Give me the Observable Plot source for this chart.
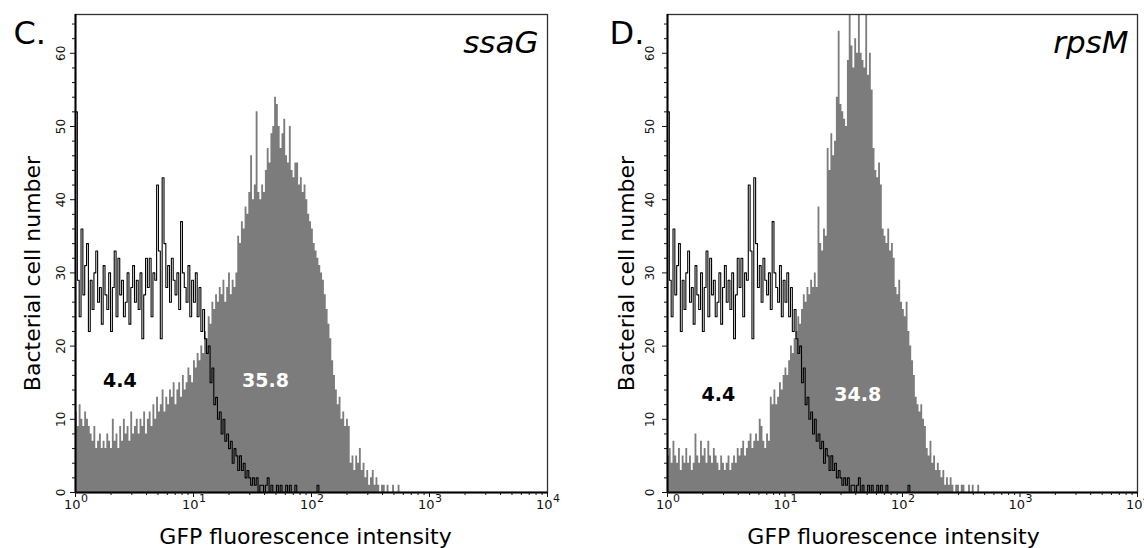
<!DOCTYPE html>
<html><head><meta charset="utf-8">
<script src="https://cdn.jsdelivr.net/npm/d3@7"></script>
<script src="https://cdn.jsdelivr.net/npm/@observablehq/plot@0.6"></script>
<style>
html,body{margin:0;padding:0;background:#fff;}
#wrap{position:relative;width:1144px;height:548px;overflow:hidden;background:#fff;}
.panel{position:absolute;top:0;width:572px;height:548px;}
</style></head>
<body>
<div id="wrap"><div class="panel" id="pc" style="left:0"></div><div class="panel" id="pd" style="left:572px"></div></div>
<script>
// 64 channels per decade, channel 0 starts at 10^0
const channelsPerDecade = 64;

// unstained control histogram (black outline, same in both panels)
const controlCounts = [
  52, 29, 24, 36, 27, 31, 34, 22, 29, 25, 30, 33, 26, 28, 23, 31,
  27, 25, 30, 22, 28, 33, 24, 32, 27, 29, 24, 26, 30, 23, 28, 31,
  26, 29, 25, 30, 21, 27, 32, 28, 32, 24, 30, 29, 42, 33, 21, 43,
  34, 28, 31, 26, 32, 29, 27, 30, 25, 37, 30, 28, 26, 31, 24, 29,
  26, 30, 24, 28, 22, 25, 21, 19, 20, 15, 17, 12, 13, 10, 11, 8,
  10, 7, 8, 6, 7, 4, 6, 5, 3, 5, 3, 4, 2, 3, 2, 1,
  2, 1, 2, 0, 1, 1, 0, 1, 2, 0, 1, 0, 0, 1, 0, 1,
  0, 0, 1, 0, 1, 0, 0, 1, 0, 0, 0, 0, 0, 0, 0, 0, 0, 0, 0, 1
];

// ssaG-gfp histogram (panel C, grey fill)
const ssaGCounts = [
  11, 9, 12, 10, 9, 11, 10, 9, 8, 7, 9, 6, 7, 8, 6, 7,
  6, 8, 7, 6, 10, 7, 8, 6, 9, 7, 10, 8, 9, 7, 11, 8,
  9, 10, 8, 10, 9, 11, 8, 10, 11, 9, 12, 10, 13, 11, 12, 14,
  11, 13, 12, 14, 13, 15, 12, 14, 15, 13, 16, 14, 15, 17, 16, 15,
  18, 17, 19, 18, 20, 19, 22, 21, 24, 23, 26, 25, 27, 26, 28, 27,
  29, 26, 28, 30, 27, 29, 28, 30, 35, 34, 37, 36, 39, 38, 41, 46,
  40, 42, 52, 41, 40, 42, 41, 44, 47, 45, 49, 50, 54, 53, 50, 47,
  49, 51, 46, 45, 50, 44, 43, 45, 45, 42, 43, 41, 42, 40, 38, 37,
  36, 34, 33, 32, 31, 30, 29, 27, 25, 23, 21, 18, 16, 14, 12, 13,
  10, 11, 9, 10, 9, 4, 5, 3, 5, 4, 6, 3, 4, 2, 3, 1,
  2, 3, 1, 2, 1, 0, 1, 1, 0, 1, 0, 0, 1, 0, 0, 1, 0
];

// rpsM-gfp histogram (panel D, grey fill)
const rpsMCounts = [
  5, 6, 4, 7, 5, 4, 6, 3, 5, 4, 6, 4, 5, 3, 4, 8,
  5, 4, 7, 5, 6, 4, 7, 5, 4, 6, 5, 4, 3, 5, 4, 3,
  4, 5, 3, 4, 5, 4, 6, 5, 6, 7, 5, 6, 7, 8, 6, 7,
  8, 7, 10, 9, 7, 6, 8, 7, 13, 12, 14, 12, 13, 15, 14, 16,
  17, 16, 18, 20, 19, 21, 22, 24, 23, 25, 27, 26, 28, 27, 29, 28,
  30, 28, 39, 34, 33, 36, 35, 47, 44, 49, 46, 48, 54, 63, 53, 52,
  51, 50, 59, 70, 61, 58, 62, 60, 70, 60, 59, 58, 70, 57, 60, 55,
  47, 44, 43, 45, 42, 36, 35, 34, 36, 33, 34, 32, 28, 27, 29, 26,
  25, 24, 26, 22, 20, 18, 16, 13, 12, 11, 12, 10, 9, 6, 5, 7,
  4, 5, 3, 4, 3, 2, 3, 1, 2, 1, 2, 1, 0, 1, 1, 0,
  1, 1, 0, 0, 1, 0, 1, 0, 0, 1, 0
];

const xMajorTicks = [1, 10, 100, 1000, 10000];
const xMinorTicks = [2, 3, 4, 5, 6, 7, 8, 9,
  20, 30, 40, 50, 60, 70, 80, 90,
  200, 300, 400, 500, 600, 700, 800, 900,
  2000, 3000, 4000, 5000, 6000, 7000, 8000, 9000];
const yMajorTicks = [0, 10, 20, 30, 40, 50, 60];
const yMinorTicks = [2, 4, 6, 8, 12, 14, 16, 18, 22, 24, 26, 28, 32, 34, 36, 38,
  42, 44, 46, 48, 52, 54, 56, 58, 62, 64];

const panelLetters = ["C.", "D."];
const geneNames = ["ssaG", "rpsM"];
const controlPercents = ["4.4", "4.4"];
const samplePercents = ["35.8", "34.8"];
const xAxisTitle = "GFP fluorescence intensity";
const yAxisTitle = "Bacterial cell number";

function toRows(counts) {
  const rows = counts.map((v, i) => ({x: Math.pow(10, i / channelsPerDecade), y: v}));
  rows.push({x: Math.pow(10, counts.length / channelsPerDecade), y: 0});
  return rows;
}
function toOutline(counts) {
  return [{x: 1, y: 0}].concat(toRows(counts));
}

function drawPanel(el, i, counts, cfg) {
  const plot = Plot.plot({
    width: 572, height: 548,
    marginLeft: cfg.ml, marginRight: cfg.mr, marginTop: 14, marginBottom: 56,
    x: {type: "log", domain: [1, 10000]},
    y: {domain: [0, 65.3]},
    style: {fontFamily: "'DejaVu Sans', sans-serif", color: "#000", background: "#fff"},
    marks: [
      Plot.areaY(toRows(counts), {x: "x", y: "y", curve: "step-after", fill: "#7c7c7c", clip: true}),
      Plot.line(toOutline(controlCounts), {x: "x", y: "y", curve: "step-after", stroke: "#000", strokeWidth: 1.1, clip: true}),
      Plot.frame({stroke: "#333", strokeWidth: 1.3}),
      Plot.ruleX([1], {stroke: "#000", strokeWidth: 2}),
      Plot.ruleY([0], {stroke: "#000", strokeWidth: 2}),
      Plot.axisX({ticks: xMinorTicks, tickSize: 3, fill: "none", stroke: "#111"}),
      Plot.axisX({ticks: xMajorTicks, tickSize: 5, fill: "none", stroke: "#111"}),
      Plot.axisY({ticks: yMinorTicks, tickSize: 3, fill: "none", stroke: "#111"}),
      Plot.axisY({ticks: yMajorTicks, tickSize: 5, fill: "none", stroke: "#111"}),
      Plot.text(yMajorTicks, {y: d => d, text: d => String(d), frameAnchor: "left", textAnchor: "middle", rotate: -90, dx: cfg.ytdx, fontSize: 12, fill: "#111"}),
      Plot.text(xMajorTicks, {x: d => d, text: () => "10", frameAnchor: "bottom", textAnchor: "end", dx: 5, dy: 16, fontSize: 13, fill: "#111"}),
      Plot.text(xMajorTicks, {x: d => d, text: d => String(Math.round(Math.log10(d))), frameAnchor: "bottom", textAnchor: "start", dx: 5.5, dy: 9, fontSize: 11, fill: "#111"}),
      Plot.text([controlPercents[i]], {x: cfg.ctrlX, y: cfg.labY, text: d => d, fontWeight: "bold", fontSize: 19, fill: "#000"}),
      Plot.text([samplePercents[i]], {x: cfg.sampX, y: cfg.labY, text: d => d, fontWeight: "bold", fontSize: 19, fill: "#fff"}),
      Plot.text([geneNames[i]], {frameAnchor: "top-right", textAnchor: "end", lineAnchor: "bottom", dx: -9, dy: 38, fontSize: 31, fontStyle: "italic", fill: "#000"}),
      Plot.text([panelLetters[i]], {frameAnchor: "top-left", textAnchor: "start", lineAnchor: "bottom", dx: cfg.ldx, dy: 29, fontSize: 32, fill: "#000"}),
      Plot.text([xAxisTitle], {frameAnchor: "bottom", textAnchor: "middle", lineAnchor: "bottom", dx: cfg.xldx, dy: 51, fontSize: 22, fill: "#000"}),
      Plot.text([yAxisTitle], {frameAnchor: "left", textAnchor: "middle", rotate: -90, dx: cfg.yldx, dy: 20, fontSize: 22, fill: "#000"})
    ]
  });
  el.appendChild(plot);
}

drawPanel(document.getElementById("pc"), 0, ssaGCounts,
  {ml: 75, mr: 25, ytdx: -14, ctrlX: 2.38, sampX: 40.8, labY: 15.2, ldx: -62, xldx: -6, yldx: -43});
drawPanel(document.getElementById("pd"), 1, rpsMCounts,
  {ml: 95, mr: 7, ytdx: -17, ctrlX: 2.71, sampX: 41.6, labY: 13.3, ldx: -58, xldx: -9, yldx: -41});
</script>
</body></html>
